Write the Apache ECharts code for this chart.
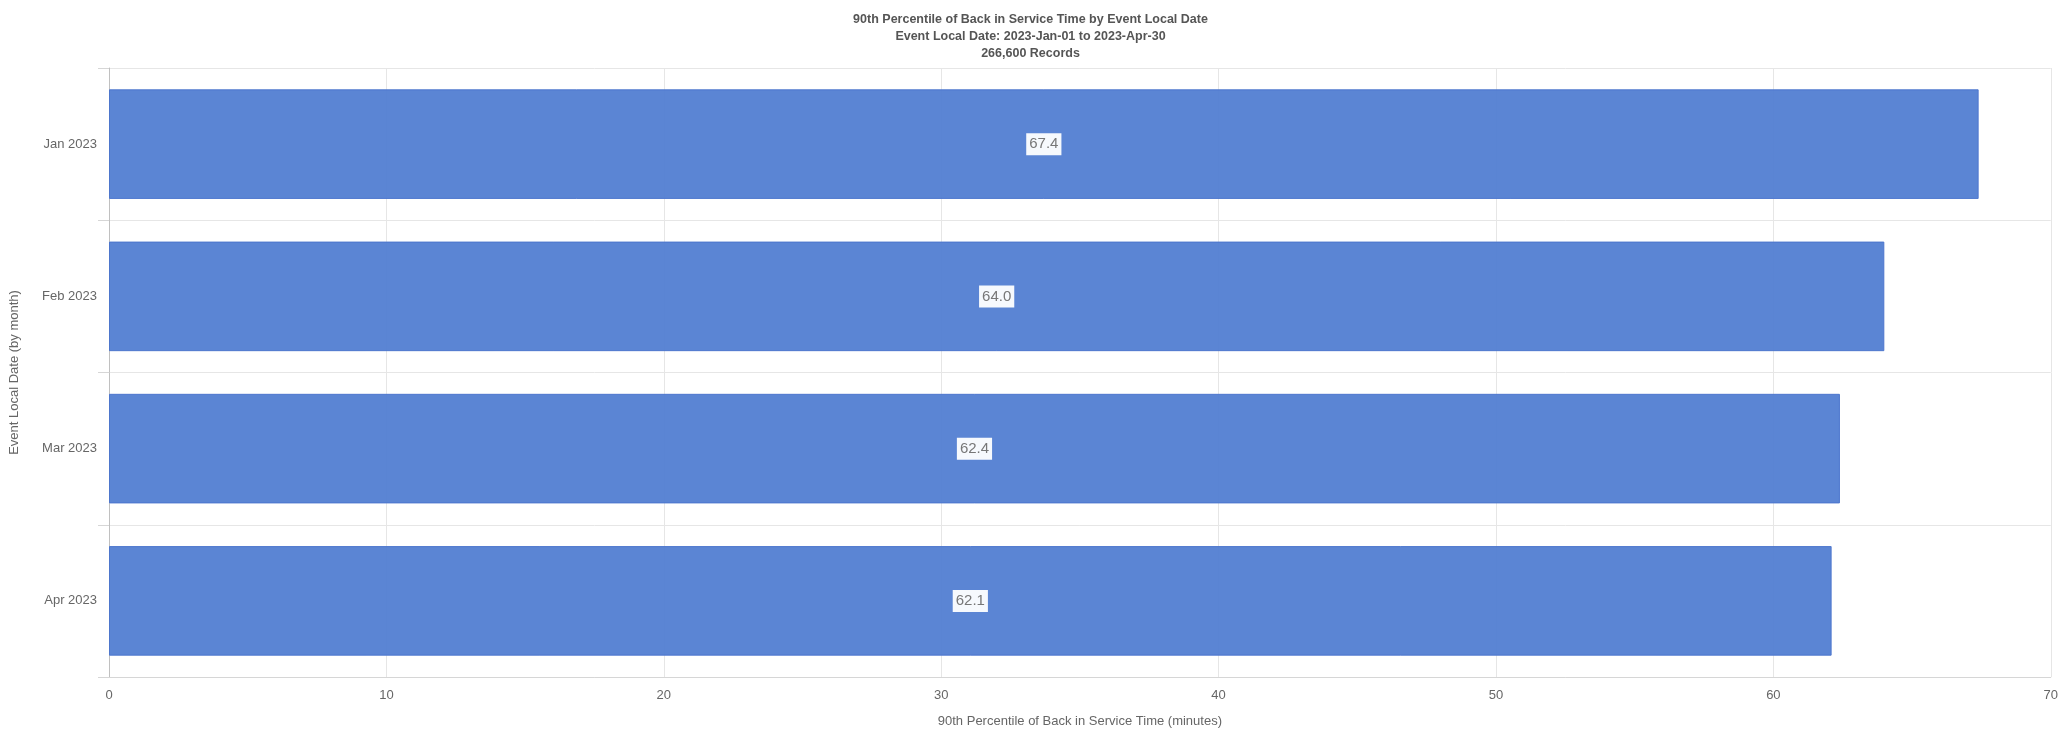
<!DOCTYPE html>
<html>
<head>
<meta charset="utf-8">
<script src="https://cdn.jsdelivr.net/npm/echarts@6/dist/echarts.min.js"></script>
<style>
html,body{margin:0;padding:0;background:#fff;}
#chart{width:2061px;height:733px;}
</style>
</head>
<body>
<div id="chart"></div>
<script>
var categories = ['Jan 2023', 'Feb 2023', 'Mar 2023', 'Apr 2023'];
var values = [67.4, 64.0, 62.4, 62.1];
var titleLines = ['90th Percentile of Back in Service Time by Event Local Date', 'Event Local Date: 2023-Jan-01 to 2023-Apr-30', '266,600 Records'];
var xAxisTitle = '90th Percentile of Back in Service Time (minutes)';
var yAxisTitle = 'Event Local Date (by month)';

var FONT = '"Liberation Sans", Arial, sans-serif';
var chart = echarts.init(document.getElementById('chart'), null, {renderer: 'canvas'});
chart.setOption({
  animation: false,
  backgroundColor: '#ffffff',
  textStyle: {fontFamily: FONT},
  title: {
    text: titleLines.join('\n'),
    left: 'center',
    top: 6,
    textStyle: {fontSize: 12.5, fontWeight: 'bold', color: '#555555', lineHeight: 17, fontFamily: FONT}
  },
  grid: {left: 105, right: 10, top: 68, bottom: 54, containLabel: false},
  xAxis: {
    type: 'value',
    min: 0, max: 70, interval: 10,
    name: xAxisTitle,
    nameLocation: 'middle',
    nameGap: 38,
    nameTextStyle: {fontSize: 13, color: '#666666', fontFamily: FONT},
    axisLine: {show: true, lineStyle: {color: '#d6d6d6', width: 1}},
    axisTick: {show: false},
    axisLabel: {fontSize: 13, color: '#666666', margin: 12, fontFamily: FONT},
    splitLine: {show: true, lineStyle: {color: '#e6e6e6', width: 1}}
  },
  yAxis: {
    type: 'category',
    inverse: true,
    data: categories,
    name: yAxisTitle,
    nameLocation: 'middle',
    nameGap: 88,
    nameTextStyle: {fontSize: 13, color: '#666666', fontFamily: FONT},
    axisLine: {show: true, lineStyle: {color: '#c0c0c0', width: 1}},
    axisTick: {show: true, length: 11, lineStyle: {color: '#d6d6d6'}},
    axisLabel: {fontSize: 13, color: '#666666', margin: 12, fontFamily: FONT},
    splitLine: {show: true, lineStyle: {color: '#e6e6e6', width: 1}}
  },
  series: [{
    type: 'bar',
    data: values,
    barCategoryGap: '28%',
    itemStyle: {color: '#527ed2', opacity: 0.95, borderColor: '#4a74cc', borderWidth: 1},
    label: {
      show: true,
      position: 'inside',
      formatter: function (p) { return p.value.toFixed(1); },
      fontSize: 15,
      color: '#707070',
      backgroundColor: '#ffffff',
      padding: [4, 3, 3, 3],
      fontFamily: FONT
    }
  }]
});
</script>
</body>
</html>
